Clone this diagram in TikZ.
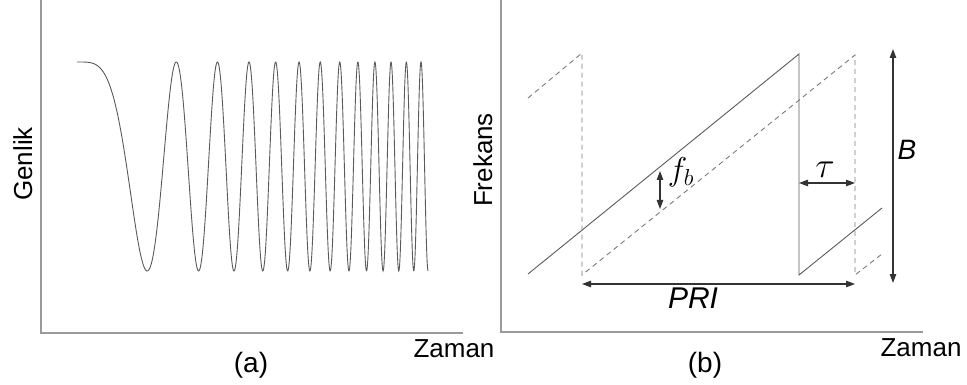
\RequirePackage{fix-cm}
\documentclass[tikz,border=0pt]{standalone}
\usepackage{fontspec}
\setmainfont{Liberation Sans}
\usetikzlibrary{arrows.meta}
\definecolor{axisgray}{HTML}{9A9A9A}
\definecolor{curvegray}{HTML}{5A5A5A}
\definecolor{dashgray}{HTML}{7A7A7A}
\definecolor{arrowgray}{HTML}{333333}
\tikzset{
  axisline/.style={draw=axisgray, line width=1.6pt},
  curveline/.style={draw=curvegray, line width=0.9pt},
  dashline/.style={draw=dashgray, line width=0.9pt, dash pattern=on 5pt off 4pt},
  dimarrow/.style={draw=arrowgray, line width=1.1pt, {Triangle[length=9pt,width=6.5pt]}-{Triangle[length=9pt,width=6.5pt]}},
  lab/.style={inner sep=0pt, font=\fontsize{26}{31}\selectfont},
  caplab/.style={inner sep=0pt, font=\fontsize{28}{33}\selectfont},
  biglab/.style={inner sep=0pt, font=\fontsize{30}{36}\selectfont\itshape},
}
\begin{document}
\begin{tikzpicture}[x=1pt, y=-1pt]
\useasboundingbox (0,0) rectangle (967,385);
% ---------- panel (a) ----------
\draw[axisline] (41,0) -- (41,333) -- (463,333);
\draw[curveline] plot[domain=77:428, samples=900, smooth]
  (\x, {166.5-104.5*cos(180*((\x-77)/70.22)^2)});
\node[lab, rotate=90, anchor=base] (genlik) at (32,164) {Genlik};
\node[lab, anchor=base] (zamanA) at (454,357) {Zaman};
\node[caplab, anchor=base] (capA) at (251,372) {(a)};
% ---------- panel (b) ----------
\draw[axisline] (501,0) -- (501,332) -- (923,332);
% solid sawtooth
\coordinate (s0) at (528,274);
\coordinate (s1) at (799,54);
\coordinate (s2) at (799,275);
\coordinate (s3) at (882,208);
\draw[curveline] (s0) -- (s1) -- (s2) -- (s3);
% dashed (delayed) sawtooth
\coordinate (d0) at (528,98);
\coordinate (d1) at (582,53);
\coordinate (d2) at (582,275);
\coordinate (d3) at (855,55);
\coordinate (d4) at (855,275);
\coordinate (d5) at (882,254);
\draw[dashline] (d0) -- (d1) -- (d2) -- (d3) -- (d4) -- (d5);
% PRI
\coordinate (priL) at (582,284);
\coordinate (priR) at (855,284);
\draw[dimarrow] (priL) -- (priR);
\node[biglab, anchor=base] (pri) at (693,308) {PRI};
% B
\coordinate (bT) at (893,49);
\coordinate (bB) at (893,283);
\draw[dimarrow] (bT) -- (bB);
\node[lab, font=\fontsize{28}{34}\selectfont\itshape, anchor=base] (blab) at (907,160) {B};
% tau
\coordinate (tL) at (799,183);
\coordinate (tR) at (855,183);
\draw[dimarrow] (tL) -- (tR);
\node[lab, font=\fontsize{36}{42}\selectfont, anchor=base] (tau) at (825,178) {$\tau$};
% f_b
\coordinate (fT) at (660,171);
\coordinate (fB) at (660,209);
\draw[dimarrow] (fT) -- (fB);
\node[lab, font=\fontsize{33}{40}\selectfont, anchor=base] (fb) at (681,181) {$f_b$};
% axis labels
\node[lab, rotate=90, anchor=base] (frek) at (492,160) {Frekans};
\node[lab, anchor=base] (zamanB) at (921,356) {Zaman};
\node[caplab, anchor=base] (capB) at (705,372) {(b)};
\end{tikzpicture}
\end{document}
